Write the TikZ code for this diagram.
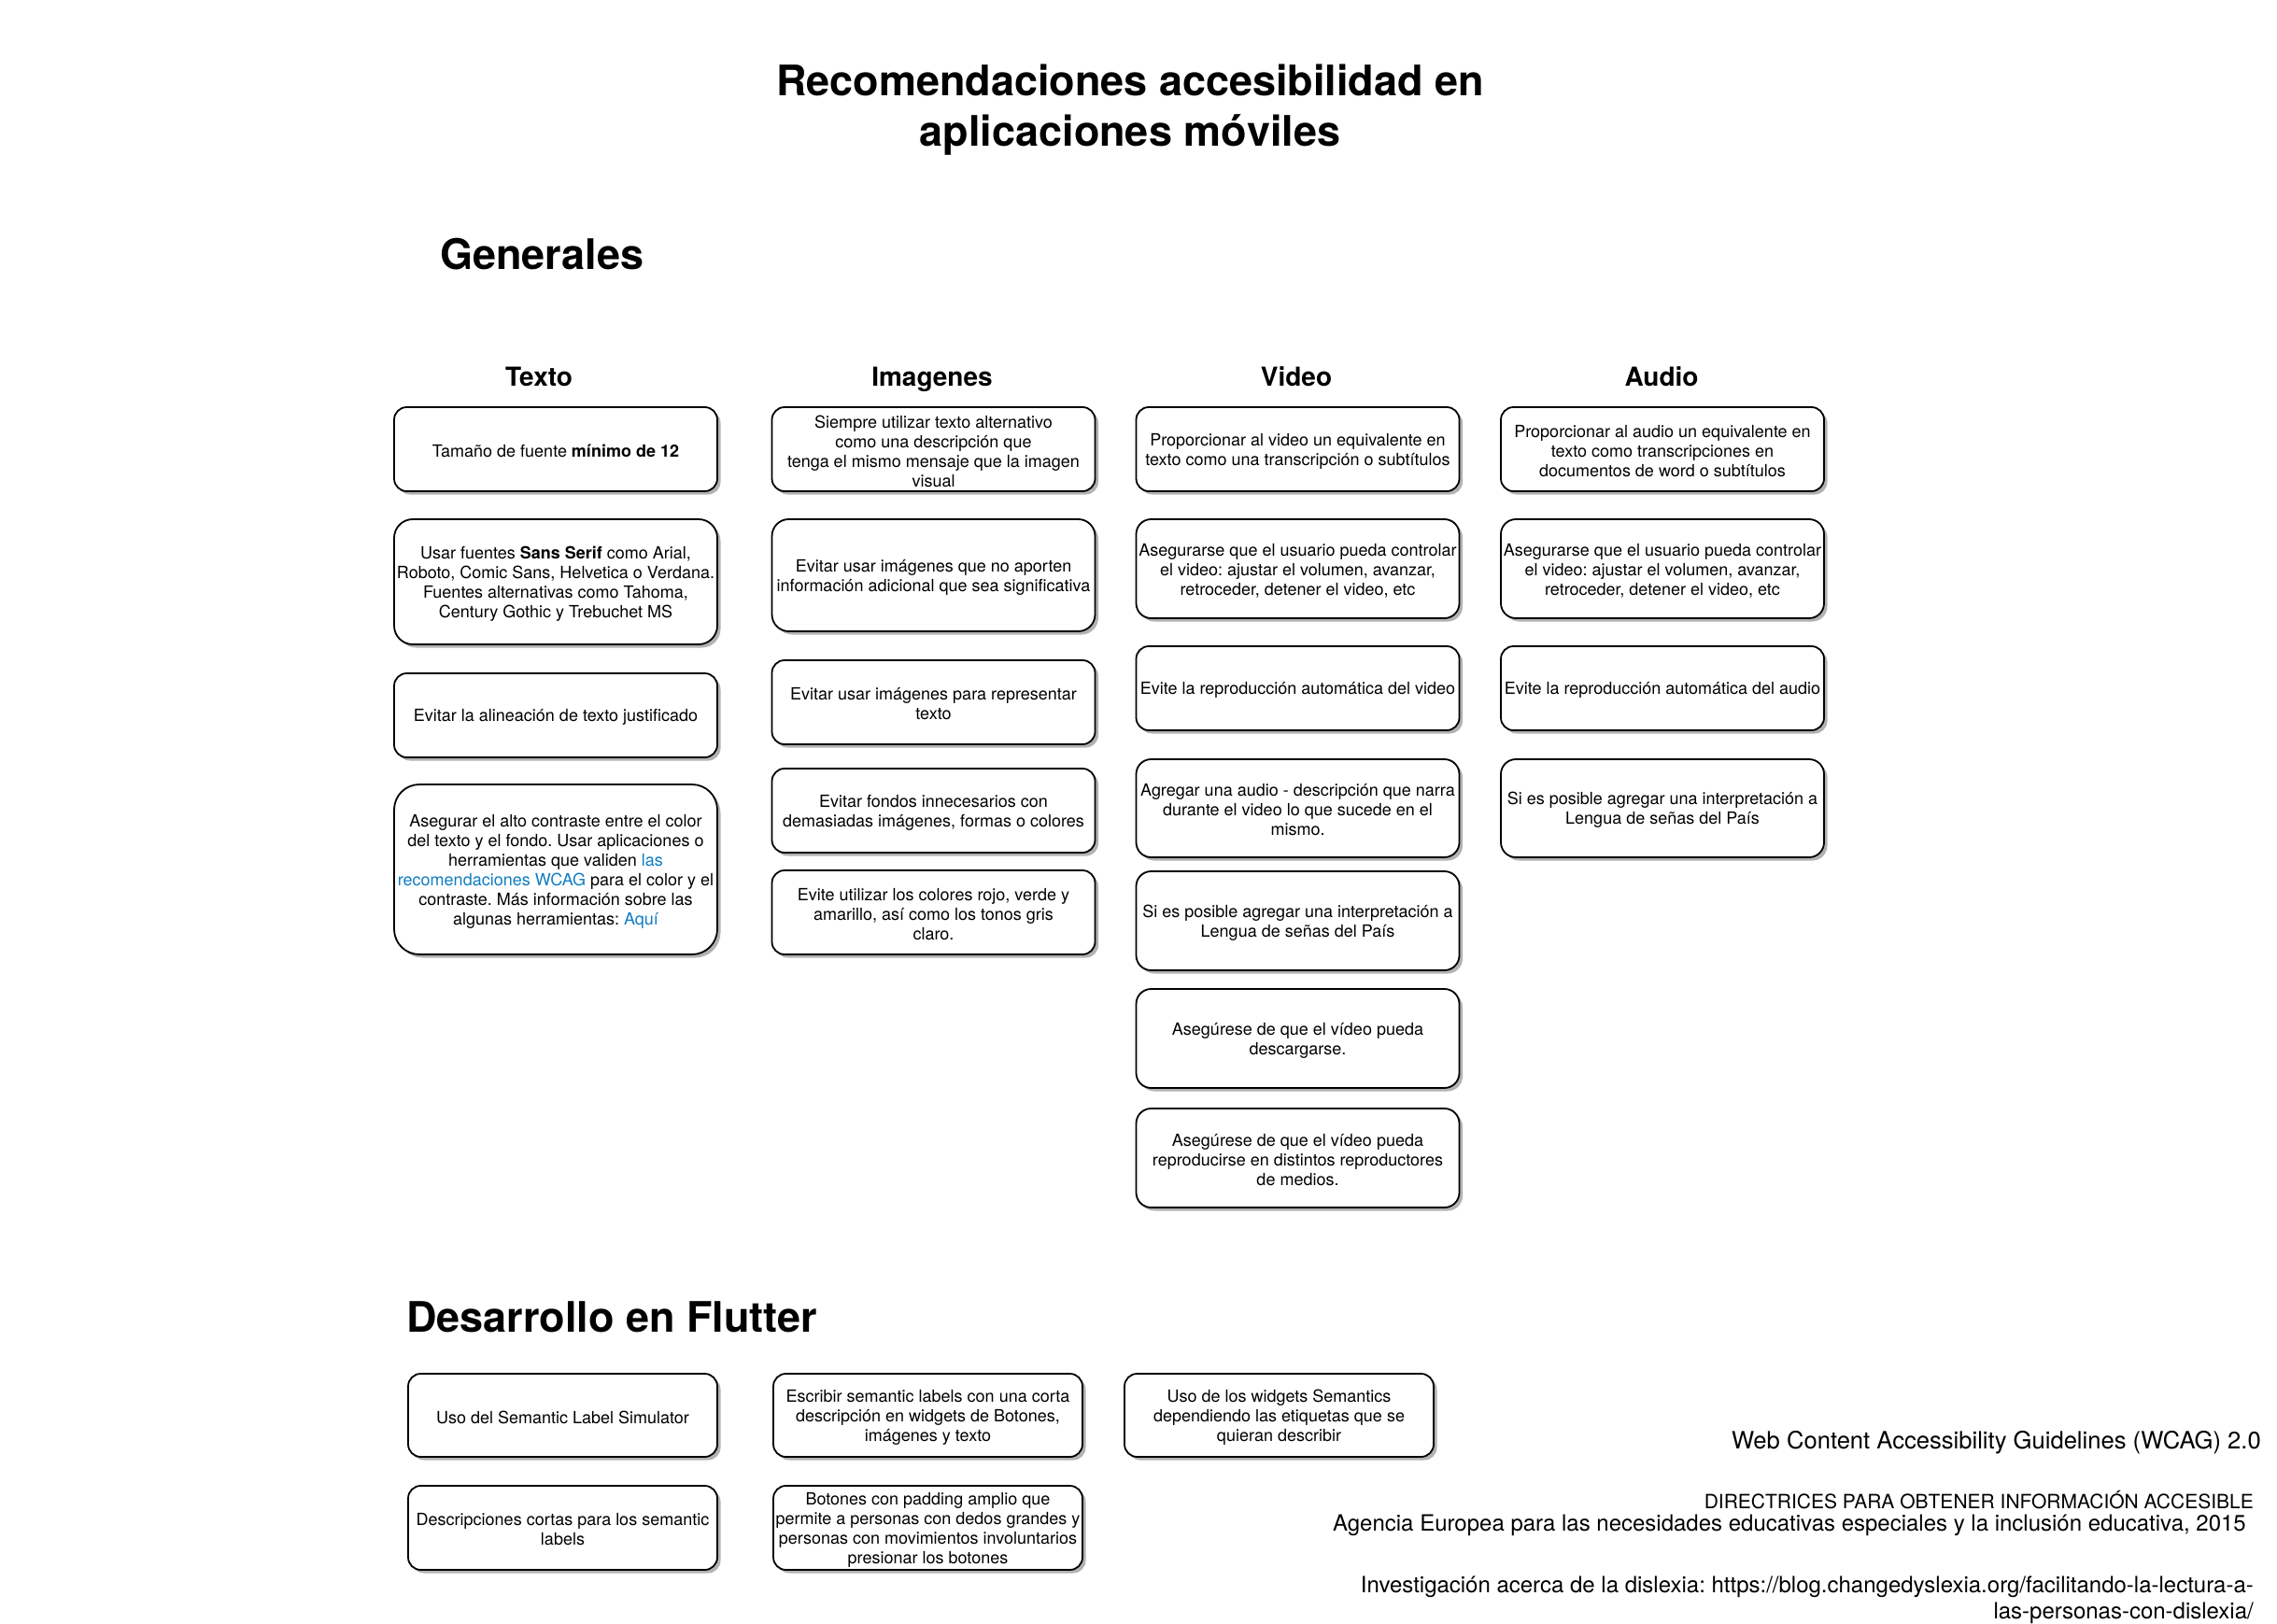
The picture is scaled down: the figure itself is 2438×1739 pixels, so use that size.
\documentclass[tikz,border=0pt]{standalone}
\usepackage{fontspec}
\setmainfont{TeX Gyre Heros}
\usetikzlibrary{shadows}
\definecolor{linkblue}{RGB}{17,125,194}
\definecolor{shadowgray}{RGB}{178,178,178}
\tikzset{
  card/.style={draw=black, line width=1.8pt, fill=white, inner sep=0pt,
    rounded corners=13.5pt,
    drop shadow={shadow xshift=3.5pt, shadow yshift=-3.5pt, fill=shadowgray, opacity=1}},
  cardtext/.style={inner sep=0pt, align=center, font=\fontsize{18}{21}\selectfont},
  hdr/.style={font=\bfseries\fontsize{28}{34}\selectfont, inner sep=0pt, anchor=base},
  big/.style={font=\bfseries\fontsize{45}{54}\selectfont, inner sep=0pt, align=center},
  foot/.style={inner sep=0pt, anchor=east, align=right}
}
% \mkcard{name}{cx}{cy}{width}{height}{radius}{text}
\newcommand{\mkcard}[7]{%
  \node[card, minimum width=#4pt, minimum height=#5pt, rounded corners=#6pt] (#1) at (#2,#3) {};
  \node[cardtext] (#1-t) at ([yshift=-2pt]#1.center) {#7};
}
\begin{document}
\frenchspacing
\begin{tikzpicture}[x=1pt, y=-1pt]
\useasboundingbox (0,0) rectangle (2438,1739);
\fill[white] (0,0) rectangle (2438,1739);

% titles
\node[big] (title) at (1210,118) {Recomendaciones accesibilidad en\\aplicaciones móviles};
\node[big, anchor=west] (gen) at (471,272) {Generales};
\node[big, anchor=west] (flut) at (435,1410) {Desarrollo en Flutter};

% column headers
\node[hdr] (htexto) at (577,413) {Texto};
\node[hdr] (himg) at (998,413) {Imagenes};
\node[hdr] (hvid) at (1388,413) {Video};
\node[hdr] (haud) at (1779,413) {Audio};

% Texto
\mkcard{t1}{595}{481}{346}{90}{13.5}{Tamaño de fuente \textbf{mínimo de 12}}
\mkcard{t2}{595}{623}{346}{134}{20}{Usar fuentes \textbf{Sans Serif} como Arial,\\Roboto, Comic Sans, Helvetica o Verdana.\\Fuentes alternativas como Tahoma,\\Century Gothic y Trebuchet MS}
\mkcard{t3}{595}{766}{346}{90}{13.5}{Evitar la alineación de texto justificado}
\mkcard{t4}{595}{931}{346}{182}{27}{Asegurar el alto contraste entre el color\\del texto y el fondo. Usar aplicaciones o\\herramientas que validen \textcolor{linkblue}{las}\\\textcolor{linkblue}{recomendaciones WCAG} para el color y el\\contraste. Más información sobre las\\algunas herramientas: \textcolor{linkblue}{Aquí}}

% Imagenes
\mkcard{i1}{999.5}{481}{346}{90}{13.5}{Siempre utilizar texto alternativo\\como una descripción que\\tenga el mismo mensaje que la imagen\\visual}
\mkcard{i2}{999.5}{616}{346}{120}{18}{Evitar usar imágenes que no aporten\\información adicional que sea significativa}
\mkcard{i3}{999.5}{752}{346}{90}{13.5}{Evitar usar imágenes para representar\\texto}
\mkcard{i4}{999.5}{868}{346}{90}{13.5}{Evitar fondos innecesarios con\\demasiadas imágenes, formas o colores}
\mkcard{i5}{999.5}{977}{346}{90}{13.5}{Evite utilizar los colores rojo, verde y\\amarillo, así como los tonos gris\\claro.}

% Video
\mkcard{v1}{1389.5}{481}{346}{90}{13.5}{Proporcionar al video un equivalente en\\texto como una transcripción o subtítulos}
\mkcard{v2}{1389.5}{609}{346}{106}{16}{Asegurarse que el usuario pueda controlar\\el video: ajustar el volumen, avanzar,\\retroceder, detener el video, etc}
\mkcard{v3}{1389.5}{737}{346}{90}{13.5}{Evite la reproducción automática del video}
\mkcard{v4}{1389.5}{865.5}{346}{105}{16}{Agregar una audio - descripción que narra\\durante el video lo que sucede en el\\mismo.}
\mkcard{v5}{1389.5}{986}{346}{106}{16}{Si es posible agregar una interpretación a\\Lengua de señas del País}
\mkcard{v6}{1389.5}{1112}{346}{106}{16}{Asegúrese de que el vídeo pueda\\descargarse.}
\mkcard{v7}{1389.5}{1240}{346}{106}{16}{Asegúrese de que el vídeo pueda\\reproducirse en distintos reproductores\\de medios.}

% Audio
\mkcard{a1}{1780}{481}{346}{90}{13.5}{Proporcionar al audio un equivalente en\\texto como transcripciones en\\documentos de word o subtítulos}
\mkcard{a2}{1780}{609}{346}{106}{16}{Asegurarse que el usuario pueda controlar\\el video: ajustar el volumen, avanzar,\\retroceder, detener el video, etc}
\mkcard{a3}{1780}{737}{346}{90}{13.5}{Evite la reproducción automática del audio}
\mkcard{a4}{1780}{865.5}{346}{105}{16}{Si es posible agregar una interpretación a\\Lengua de señas del País}

% Flutter
\mkcard{f1}{602.5}{1515.5}{331}{89}{13.5}{Uso del Semantic Label Simulator}
\mkcard{f2}{993.5}{1515.5}{331}{89}{13.5}{Escribir semantic labels con una corta\\descripción en widgets de Botones,\\imágenes y texto}
\mkcard{f3}{1369.5}{1515.5}{331}{89}{13.5}{Uso de los widgets Semantics\\dependiendo las etiquetas que se\\quieran describir}
\mkcard{f4}{602.5}{1636}{331}{90}{13.5}{Descripciones cortas para los semantic\\labels}
\mkcard{f5}{993.5}{1636}{331}{90}{13.5}{Botones con padding amplio que\\permite a personas con dedos grandes y\\personas con movimientos involuntarios\\presionar los botones}

% references
\node[foot, font=\fontsize{25.6}{30}\selectfont] (r1) at (2421,1545) {Web Content Accessibility Guidelines (WCAG) 2.0};
\node[foot, font=\fontsize{21}{25}\selectfont] (r2) at (2413,1606) {DIRECTRICES PARA OBTENER INFORMACIÓN ACCESIBLE};
\node[foot, font=\fontsize{24}{28}\selectfont] (r3) at (2405,1633) {Agencia Europea para las necesidades educativas especiales y la inclusión educativa, 2015};
\node[foot, font=\fontsize{24}{28}\selectfont] (r4) at (2413,1713) {Investigación acerca de la dislexia: https://blog.changedyslexia.org/facilitando-la-lectura-a-\\las-personas-con-dislexia/};
\end{tikzpicture}
\end{document}
